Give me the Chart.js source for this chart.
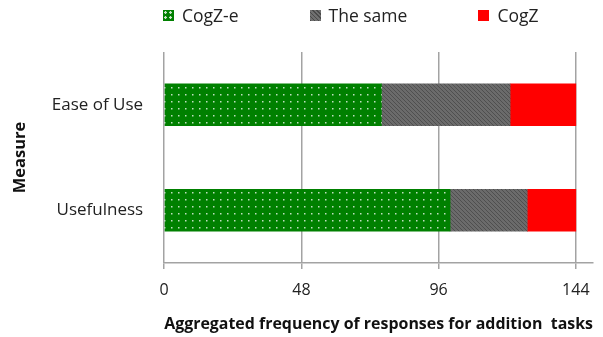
<!DOCTYPE html>
<html>
<head>
<meta charset="utf-8">
<script src="https://cdn.jsdelivr.net/npm/chart.js@4"></script>
<style>
  body { margin: 0; background: #fff; }
  #wrap { position: relative; width: 603px; height: 337px; }
  #legend { position: absolute; top: 3px; left: 163px; width: 430px; display: flex; white-space: nowrap; font: 17.5px "Open Sans", sans-serif; color: #222; }
  #legend .item { display: flex; align-items: center; margin-right: 71px; flex: none; }
  #legend .box { width: 11px; height: 11px; margin-right: 8px; }
</style>
</head>
<body>
<div id="wrap">
  <div id="legend"></div>
  <canvas id="bar-chart" width="603" height="337"></canvas>
</div>
<script>
var categories = ["Ease of Use", "Usefulness"];
var seriesNames = ["CogZ-e", "The same", "CogZ"];
var cogzE = [76, 100];
var theSame = [45, 27];
var cogz = [23, 17];
var tickValues = [0, 48, 96, 144];

function dotPattern() {
  var c = document.createElement("canvas");
  c.width = 7; c.height = 7;
  var g = c.getContext("2d");
  g.fillStyle = "#008000";
  g.fillRect(0, 0, 7, 7);
  g.fillStyle = "rgba(255,255,255,0.75)";
  g.fillRect(3, 3, 1.5, 1.5);
  return g.createPattern(c, "repeat");
}

function hatchPattern() {
  var c = document.createElement("canvas");
  c.width = 4; c.height = 4;
  var g = c.getContext("2d");
  g.fillStyle = "#6b6b6b";
  g.fillRect(0, 0, 4, 4);
  g.fillStyle = "#4f4f4f";
  for (var i = 0; i < 4; i++) g.fillRect(i, i, 1, 1);
  return g.createPattern(c, "repeat");
}

var fills = [dotPattern(), hatchPattern(), "#ff0000"];
var legendCss = [
  "#008000 radial-gradient(circle, rgba(255,255,255,.8) 1px, transparent 1.5px) 0 0/5px 5px",
  "repeating-linear-gradient(45deg, #4a4a4a 0 1px, #707070 1px 3px)",
  "#ff0000"
];

var legend = document.getElementById("legend");
seriesNames.forEach(function (name, i) {
  var item = document.createElement("div");
  item.className = "item";
  var box = document.createElement("span");
  box.className = "box";
  box.style.background = legendCss[i];
  item.appendChild(box);
  item.appendChild(document.createTextNode(name));
  legend.appendChild(item);
});

var gridColor = "#a3a3a3";
var tickFont = { family: "'Open Sans', sans-serif", size: 16 };
var labelFont = { family: "'Open Sans', sans-serif", size: 17 };
var boldFont = { family: "'Open Sans', sans-serif", size: 16.5, weight: "bold" };

new Chart(document.getElementById("bar-chart"), {
  type: "bar",
  data: {
    labels: categories,
    datasets: [
      { label: seriesNames[0], data: cogzE, backgroundColor: fills[0] },
      { label: seriesNames[1], data: theSame, backgroundColor: fills[1] },
      { label: seriesNames[2], data: cogz, backgroundColor: fills[2] }
    ]
  },
  options: {
    indexAxis: "y",
    responsive: false,
    animation: false,
    layout: { padding: { top: 52, right: 10, left: 0, bottom: 3 } },
    datasets: { bar: { barThickness: 42, borderWidth: 0 } },
    plugins: {
      legend: { display: false },
      tooltip: { enabled: false }
    },
    scales: {
      x: {
        stacked: true,
        min: 0,
        max: 150,
        afterBuildTicks: function (axis) {
          axis.ticks = tickValues.map(function (v) { return { value: v }; });
        },
        grid: { color: gridColor, lineWidth: 1.5, tickLength: 6 },
        border: { color: gridColor, width: 1.5 },
        ticks: { color: "#222", font: tickFont, padding: 12 },
        title: {
          display: true,
          text: "Aggregated frequency of responses for addition  tasks",
          color: "#111",
          font: boldFont,
          padding: { top: 2, bottom: 0 }
        }
      },
      y: {
        stacked: true,
        grid: { display: false, drawTicks: false },
        border: { display: false },
        ticks: { color: "#222", font: labelFont, padding: 21 },
        title: {
          display: true,
          text: "Measure",
          color: "#111",
          font: boldFont,
          padding: { top: 10, bottom: 1 }
        }
      }
    }
  }
});
</script>
</body>
</html>
